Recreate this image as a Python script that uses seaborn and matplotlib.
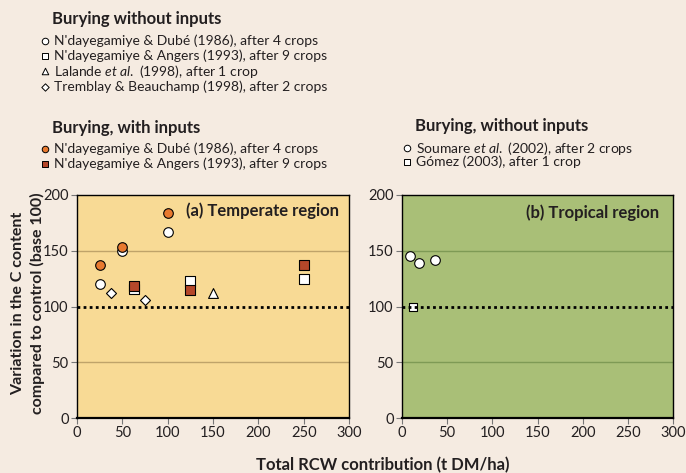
import matplotlib
matplotlib.use("Agg")
import matplotlib.pyplot as plt
import seaborn as sns
import pandas as pd

# ---- data ----
dube_wo_x = [25, 50, 100]
dube_wo_y = [120, 150, 167]
angers_wo_x = [62.5, 125, 250]
angers_wo_y = [116, 123, 125]
lalande_x = [150]
lalande_y = [112]
tremblay_x = [37.5, 75]
tremblay_y = [112, 106]
dube_w_x = [25, 50, 100]
dube_w_y = [137, 153, 184]
angers_w_x = [62.5, 125, 250]
angers_w_y = [118, 115, 137]
soumare_x = [9, 18.5, 36.5]
soumare_y = [145, 139, 142]
gomez_x = [12]
gomez_y = [100]

xticks = [0, 50, 100, 150, 200, 250, 300]
yticks = [0, 50, 100, 150, 200]

sns.set_theme(style="white")
plt.rcParams['font.family'] = ['Lato', 'DejaVu Sans']
plt.rcParams['mathtext.fontset'] = 'custom'
plt.rcParams['mathtext.rm'] = 'Lato'
plt.rcParams['mathtext.it'] = 'Lato:italic'

BG = '#F5EBE1'
YEL = '#F8DA95'
GRN = '#A9BF77'
ORANGE = '#E8792F'
RED = '#B5472A'
TXT = '#231F20'

W, H = 686, 473
fig = plt.figure(figsize=(W / 100, H / 100), dpi=100, facecolor=BG)

def px_axes(x0, y0, x1, y1):
    return fig.add_axes([x0 / W, 1 - y1 / H, (x1 - x0) / W, (y1 - y0) / H])

axL = px_axes(77, 195, 349, 418)
axR = px_axes(402, 195, 673, 418)

def style(ax, face, gridc):
    ax.set_facecolor(face)
    ax.set_xlim(0, 300)
    ax.set_ylim(0, 200)
    ax.set_xticks(xticks)
    ax.set_yticks(yticks)
    ax.set_xticklabels([str(v) for v in xticks])
    ax.set_yticklabels([str(v) for v in yticks])
    for v in [50, 150]:
        ax.axhline(v, color=gridc, lw=1.0, zorder=0.5)
    ax.axhline(100, color='black', lw=2.0, ls=(0, (1, 1.2)), zorder=2)
    for s in ax.spines.values():
        s.set_color('black')
        s.set_linewidth(1.0)
    ax.spines['bottom'].set_linewidth(1.6)
    ax.tick_params(axis='both', direction='out', length=4, width=0.8,
                   color='#777777', labelsize=10.5, labelcolor=TXT, pad=2,
                   bottom=True, left=True)
    ax.set_xlabel('')
    ax.set_ylabel('')

def sc(ax, x, y, marker, fc, s, z=3):
    sns.scatterplot(x=x, y=y, ax=ax, marker=marker, color=fc, s=s,
                    edgecolor='black', linewidth=0.8, zorder=z, legend=False)

# Left panel
sc(axL, angers_wo_x, angers_wo_y, 's', 'white', 42)
sc(axL, dube_wo_x, dube_wo_y, 'o', 'white', 48)
sc(axL, tremblay_x, tremblay_y, 'D', 'white', 26)
sc(axL, lalande_x, lalande_y, '^', 'white', 50)
sc(axL, dube_w_x, dube_w_y, 'o', ORANGE, 48, 4)
sc(axL, angers_w_x, angers_w_y, 's', RED, 42, 4)
style(axL, YEL, '#BFA36A')
axL.text(0.965, 0.93, '(a) Temperate region', transform=axL.transAxes,
         ha='right', va='center', fontsize=12, fontweight='bold', color=TXT)

# Right panel
sc(axR, soumare_x, soumare_y, 'o', 'white', 48)
sc(axR, gomez_x, gomez_y, 's', 'white', 38, 1.5)
style(axR, GRN, '#7E9A55')
axR.text(0.95, 0.92, '(b) Tropical region', transform=axR.transAxes,
         ha='right', va='center', fontsize=12, fontweight='bold', color=TXT)

# Axis labels
fig.text(18 / W, 1 - 303 / H, 'Variation in the C content', rotation=90,
         ha='center', va='center', fontsize=11.5, fontweight='bold', color=TXT)
fig.text(37 / W, 1 - 303 / H, 'compared to control (base 100)', rotation=90,
         ha='center', va='center', fontsize=11.5, fontweight='bold', color=TXT)
fig.text(383 / W, 1 - 465 / H, 'Total RCW contribution (t DM/ha)',
         ha='center', va='center', fontsize=12, fontweight='bold', color=TXT)

# Legend blocks drawn as text + markers
lax = fig.add_axes([0, 0, 1, 1], facecolor='none')
lax.set_xlim(0, W)
lax.set_ylim(H, 0)
lax.axis('off')

def header(x, y, t):
    lax.text(x, y, t, ha='left', va='center', fontsize=12,
             fontweight='bold', color=TXT)

def entry(x, y, marker, fc, t, ms=22):
    lax.scatter([x], [y], marker=marker, s=ms, facecolor=fc,
                edgecolor='black', linewidth=0.7)
    lax.text(x + 9, y, t, ha='left', va='center', fontsize=10, color=TXT)

header(52, 19, 'Burying without inputs')
entry(45, 41, 'o', 'white', "N'dayegamiye & Dubé (1986), after 4 crops")
entry(45, 56, 's', 'white', "N'dayegamiye & Angers (1993), after 9 crops")
entry(45, 71, '^', 'white', "Lalande $et\\ al.$ (1998), after 1 crop")
entry(45, 87, 'D', 'white', "Tremblay & Beauchamp (1998), after 2 crops", 14)

header(52, 128, 'Burying, with inputs')
entry(45, 149, 'o', ORANGE, "N'dayegamiye & Dubé (1986), after 4 crops")
entry(45, 164, 's', RED, "N'dayegamiye & Angers (1993), after 9 crops")

header(415, 126, 'Burying, without inputs')
entry(407, 148, 'o', 'white', "Soumare $et\\ al.$ (2002), after 2 crops")
entry(407, 162, 's', 'white', "Gómez (2003), after 1 crop")

fig.savefig('out.png', dpi=100, facecolor=BG)
